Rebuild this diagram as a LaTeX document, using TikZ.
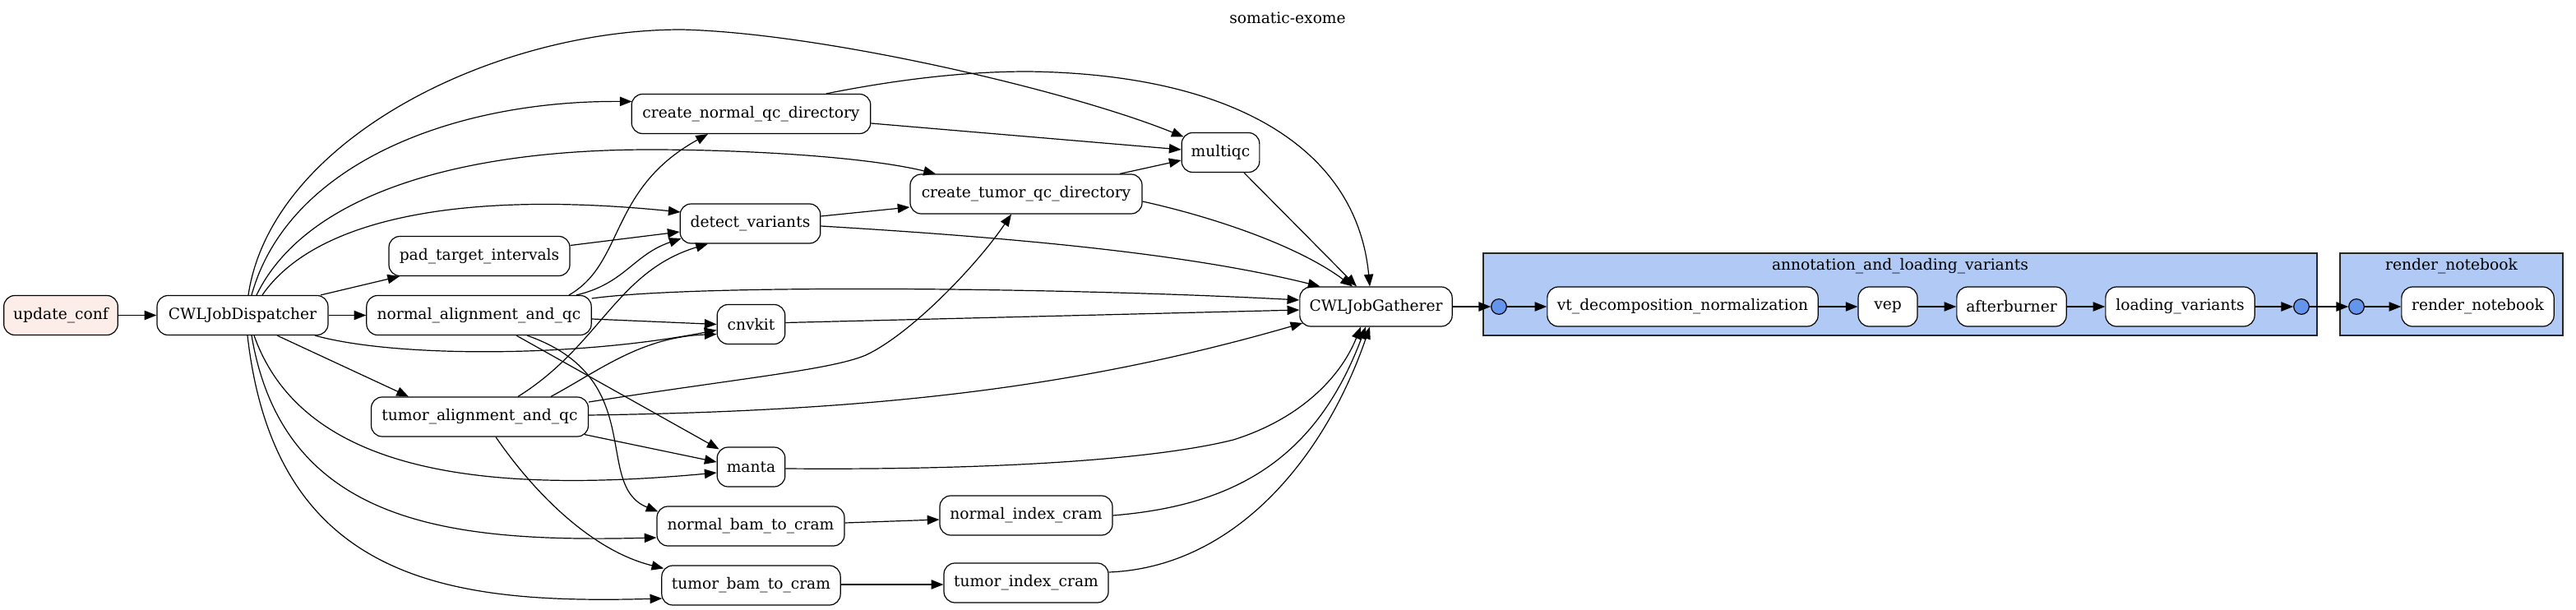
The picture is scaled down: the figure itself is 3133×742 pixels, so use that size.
\documentclass[tikz,border=0pt]{standalone}
\usepackage{fontspec}
\setmainfont{DejaVu Serif}
\usetikzlibrary{arrows.meta}
\definecolor{confpink}{RGB}{253,237,232}
\definecolor{clusterblue}{RGB}{176,202,245}
\definecolor{dotblue}{RGB}{100,149,237}
\tikzset{
  job/.style={draw=black, fill=white, rounded corners=10pt, minimum height=36pt,
              inner sep=0pt, line width=0.9pt},
  portdot/.style={draw=black, fill=dotblue, circle, minimum size=14pt, inner sep=0pt, line width=0.9pt},
  cluster/.style={draw=black!85, fill=clusterblue, line width=0.9pt},
  flow/.style={-{Triangle[length=11pt,width=8.5pt]}, line width=0.9pt},
}
\begin{document}
\begin{tikzpicture}[x=0.75pt,y=-0.75pt,font=\fontsize{14pt}{17pt}\selectfont]
\useasboundingbox (0,0) rectangle (3133,742);

% clusters
\draw[cluster] (1804,308) rectangle (2818,408);
\draw[cluster] (2846,308) rectangle (3117,408);
\node (lab1) at (2311,324) {annotation\_and\_loading\_variants};
\node (lab2) at (2981.5,324) {render\_notebook};

% title
\node (title) at (1566,22) {somatic-exome};

% nodes
\node[job, fill=confpink, minimum width=104pt] (uc) at (74,383.5) {update\_conf};
\node[job, minimum width=156pt] (D) at (295,383.5) {CWLJobDispatcher};
\node[job, minimum width=205pt] (N) at (582.5,383.5) {normal\_alignment\_and\_qc};
\node[job, minimum width=165pt] (pad) at (583,311.5) {pad\_target\_intervals};
\node[job, minimum width=198pt] (T) at (583.5,507) {tumor\_alignment\_and\_qc};
\node[job, minimum width=128pt] (dv) at (912.5,272) {detect\_variants};
\node[job, minimum width=218pt] (cnqc) at (913.5,138.5) {create\_normal\_qc\_directory};
\node[job, minimum width=62pt] (cnv) at (913.5,394.5) {cnvkit};
\node[job, minimum width=62pt] (manta) at (913.5,568) {manta};
\node[job, minimum width=171pt] (nbc) at (913,640) {normal\_bam\_to\_cram};
\node[job, minimum width=163pt] (tbc) at (913.5,712) {tumor\_bam\_to\_cram};
\node[job, minimum width=211.5pt] (ctqc) at (1248,236) {create\_tumor\_qc\_directory};
\node[job, minimum width=157.5pt] (nic) at (1248,627) {normal\_index\_cram};
\node[job, minimum width=150pt] (tic) at (1248,709) {tumor\_index\_cram};
\node[job, minimum width=71pt] (mqc) at (1484.5,185.5) {multiqc};
\node[job, minimum width=139pt] (G) at (1673.5,373) {CWLJobGatherer};

\node[portdot] (in1) at (1823,373) {};
\node[job, minimum width=247pt] (vt) at (2046.5,373) {vt\_decomposition\_normalization};
\node[job, minimum width=54pt] (vep) at (2296,373) {vep};
\node[job, minimum width=100pt] (ab) at (2446.5,373) {afterburner};
\node[job, minimum width=136pt] (lv) at (2651.5,373) {loading\_variants};
\node[portdot] (out1) at (2799,373) {};
\node[portdot] (in2) at (2866,373) {};
\node[job, minimum width=139pt] (rn) at (3013.5,373) {render\_notebook};

% edges from update_conf / dispatcher
\draw[flow] (uc.east) -- (D.west);
\draw[flow] (D.east) -- (N.west);
\draw[flow] ([shift={(7,0)}]D.north) .. controls (330,170) and (600,36) .. (829,36)
   .. controls (1000,40) and (1300,110) .. ([shift={(3,-19)}]mqc.west);
\draw[flow] ([shift={(11,0)}]D.north) .. controls (350,200) and (550,122) .. ([shift={(1,-15)}]cnqc.west);
\draw[flow] ([shift={(17,0)}]D.north) .. controls (370,240) and (550,182) .. (791,182)
   .. controls (900,182) and (1050,190) .. ([shift={(-110,0)}]ctqc.north);
\draw[flow] ([shift={(24,0)}]D.north) .. controls (380,270) and (550,230) .. ([shift={(1,-14)}]dv.west);
\draw[flow] ([shift={(95,0)}]D.north) -- ([shift={(-97,0)}]pad.south);
\draw[flow] ([shift={(88,0)}]D.south) .. controls (480,435) and (700,435) .. ([shift={(0,7)}]cnv.west);
\draw[flow] ([shift={(42,0)}]D.south) -- ([shift={(-86.5,0)}]T.north);
\draw[flow] ([shift={(14,0)}]D.south) .. controls (370,580) and (600,600) .. ([shift={(0,7)}]manta.west);
\draw[flow] ([shift={(11,0)}]D.south) .. controls (345,640) and (550,660) .. ([shift={(0,14)}]nbc.west);
\draw[flow] ([shift={(6,0)}]D.south) .. controls (335,710) and (550,735) .. ([shift={(1,16)}]tbc.west);

% edges from normal_alignment_and_qc
\draw[flow] ([shift={(109.5,0)}]N.north) .. controls (760,320) and (740,230) .. ([shift={(-52.5,0)}]cnqc.south);
\draw[flow] ([shift={(118.5,0)}]N.north) .. controls (760,345) and (770,310) .. ([shift={(2,18)}]dv.west);
\draw[flow] ([shift={(0,-20.5)}]N.east) .. controls (850,345) and (1300,350) .. ([shift={(0,-8)}]G.west);
\draw[flow] ([shift={(0,4.5)}]N.east) -- (cnv.west);
\draw[flow] ([shift={(45.5,0)}]N.south) -- ([shift={(3,3)}]manta.north west);
\draw[flow] ([shift={(58.5,0)}]N.south) .. controls (790,460) and (720,590) .. ([shift={(2,7)}]nbc.north west);

% edges from tumor_alignment_and_qc
\draw[flow] ([shift={(46.5,0)}]T.north) .. controls (730,420) and (750,330) .. ([shift={(-51.5,0)}]dv.south);
\draw[flow] ([shift={(86.5,0)}]T.north) .. controls (730,450) and (780,410) .. ([shift={(0,12)}]cnv.west);
\draw[flow] ([shift={(0,-18)}]T.east) .. controls (900,460) and (1010,450) .. (1053,432)
   .. controls (1110,405) and (1190,320) .. ([shift={(-18,0)}]ctqc.south);
\draw[flow] ([shift={(0,-2)}]T.east) .. controls (1050,500) and (1300,475) .. ([shift={(4,20)}]G.west);
\draw[flow] ([shift={(-5,-3)}]T.south east) -- ([shift={(0,-6)}]manta.west);
\draw[flow] ([shift={(19.5,0)}]T.south) .. controls (650,600) and (720,670) .. ([shift={(3,4)}]tbc.north west);

% other edges
\draw[flow] ([shift={(0,-13)}]pad.east) -- ([shift={(0,10)}]dv.west);
\draw[flow] ([shift={(0,-9)}]dv.east) -- ([shift={(0,16)}]ctqc.west);
\draw[flow] ([shift={(0,3)}]dv.east) .. controls (1250,290) and (1450,310) .. ([shift={(-68,0)}]G.north);
\draw[flow] ([shift={(0,11.5)}]cnqc.east) -- ([shift={(0,-3.5)}]mqc.west);
\draw[flow] ([shift={(91.5,0)}]cnqc.north) .. controls (1100,95) and (1180,87) .. (1250,87)
   .. controls (1500,90) and (1650,180) .. ([shift={(-7.5,0)}]G.north);
\draw[flow] ([shift={(114,0)}]ctqc.north) -- ([shift={(0,9.5)}]mqc.west);
\draw[flow] ([shift={(0,9)}]ctqc.east) .. controls (1480,265) and (1580,300) .. ([shift={(-28.5,0)}]G.north);
\draw[flow] ([shift={(28.5,0)}]mqc.south) -- ([shift={(-23.5,0)}]G.north);
\draw[flow] ([shift={(0,-2)}]cnv.east) -- ([shift={(0,4)}]G.west);
\draw[flow] ([shift={(0,2)}]manta.east) .. controls (1200,572) and (1400,560) .. (1500,535)
   .. controls (1580,510) and (1630,460) .. ([shift={(-18.5,0)}]G.south);
\draw[flow] (nic.east) .. controls (1500,615) and (1600,560) .. ([shift={(-12.5,0)}]G.south);
\draw[flow] ([shift={(0,-13)}]tic.east) .. controls (1500,690) and (1610,560) .. ([shift={(-7.5,0)}]G.south);
\draw[flow] ([shift={(0,-4)}]nbc.east) -- ([shift={(0,5)}]nic.west);
\draw[flow] ([shift={(0,-1)}]tbc.east) -- ([shift={(0,2)}]tic.west);

% cluster chain
\draw[flow] (G.east) -- (in1.west);
\draw[flow] (in1.east) -- (vt.west);
\draw[flow] (vt.east) -- (vep.west);
\draw[flow] (vep.east) -- (ab.west);
\draw[flow] (ab.east) -- (lv.west);
\draw[flow] (lv.east) -- (out1.west);
\draw[flow] (out1.east) -- (in2.west);
\draw[flow] (in2.east) -- (rn.west);
\end{tikzpicture}
\end{document}
